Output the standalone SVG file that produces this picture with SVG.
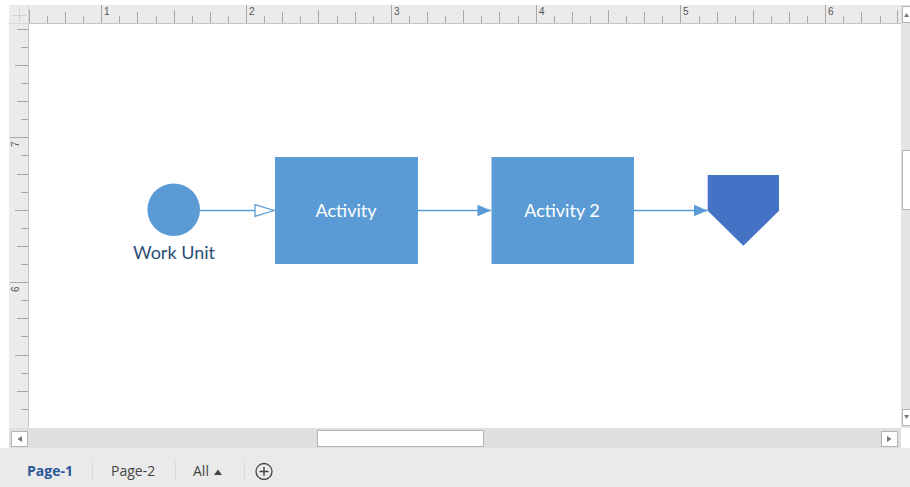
<svg xmlns="http://www.w3.org/2000/svg" width="910" height="487" viewBox="0 0 910 487">
<defs>
<style>
.ruler{fill:#ebebeb}
.tick{stroke:#a8a8a8;stroke-width:1;fill:none}
.rnum{font-family:"Liberation Sans",Arial,sans-serif;font-size:10px;fill:#555}
.sbox{fill:#fff;stroke:#b4b4b4;stroke-width:1}
.arrowglyph{fill:#777}
.conn{stroke:#5b9bd5;stroke-width:1.3;fill:none}
.shape{fill:#5b9bd5}
.lbl{font-family:Lato,"Open Sans",sans-serif;font-size:18px;fill:#fff;text-anchor:middle}
.tab{font-family:"Open Sans","Noto Sans",sans-serif;font-size:14px}
.sep{stroke:#d6d6d6;stroke-width:1}
</style>
<marker id="openArrow" markerWidth="22" markerHeight="14" refX="20" refY="7" orient="auto" markerUnits="userSpaceOnUse">
<path d="M1,1.2 L20,7 L1,12.8 Z" fill="#fff" stroke="#5b9bd5" stroke-width="1.3"/>
</marker>
<marker id="fillArrow" markerWidth="16" markerHeight="14" refX="14" refY="7" orient="auto" markerUnits="userSpaceOnUse">
<path d="M0.5,1.2 L14,7 L0.5,12.8 Z" fill="#5b9bd5"/>
</marker>
</defs>

<rect x="0" y="0" width="910" height="487" fill="#fff"/>

<!-- top ruler -->
<g id="top-ruler">
<rect class="ruler" x="9" y="5" width="892" height="19"/>
<line x1="9" y1="23.5" x2="901" y2="23.5" stroke="#c4c4c4"/>
<path class="tick" d="M101.5,5V23M246.5,5V23M391.5,5V23M536.5,5V23M680.5,5V23M825.5,5V23
M29.5,10V23M174.5,10V23M318.5,10V23M463.5,10V23M608.5,10V23M753.5,10V23M897.5,10V23
M65.5,12V23M137.5,12V23M210.5,12V23M282.5,12V23M355.5,12V23M427.5,12V23M499.5,12V23M572.5,12V23M644.5,12V23M717.5,12V23M789.5,12V23M861.5,12V23
M47.5,16V23M83.5,16V23M119.5,16V23M156.5,16V23M192.5,16V23M228.5,16V23M264.5,16V23M300.5,16V23M337.5,16V23M373.5,16V23M409.5,16V23M445.5,16V23M481.5,16V23M518.5,16V23M554.5,16V23M590.5,16V23M626.5,16V23M662.5,16V23M699.5,16V23M735.5,16V23M771.5,16V23M807.5,16V23M843.5,16V23M880.5,16V23"/>
<text class="rnum" x="104" y="15">1</text>
<text class="rnum" x="249" y="15">2</text>
<text class="rnum" x="394" y="15">3</text>
<text class="rnum" x="539" y="15">4</text>
<text class="rnum" x="683" y="15">5</text>
<text class="rnum" x="828" y="15">6</text>
</g>

<!-- left ruler -->
<g id="left-ruler">
<rect class="ruler" x="9" y="24" width="20" height="404"/>
<line x1="28.5" y1="5" x2="28.5" y2="428" stroke="#c4c4c4"/>
<path class="tick" d="M10,137.5H28M10,282.5H28
M15,65.5H28M15,210.5H28M15,355.5H28
M17,29.5H28M17,101.5H28M17,174.5H28M17,246.5H28M17,318.5H28M17,391.5H28
M21,47.5H28M21,83.5H28M21,119.5H28M21,155.5H28M21,192.5H28M21,228.5H28M21,264.5H28M21,300.5H28M21,336.5H28M21,373.5H28M21,409.5H28"/>
<text class="rnum" transform="translate(19,147) rotate(-90)">7</text>
<text class="rnum" transform="translate(19,292) rotate(-90)">6</text>
</g>

<!-- corner -->
<g id="ruler-corner">
<rect class="ruler" x="9" y="5" width="19.5" height="18.5"/>
<path d="M12,15.5H26M19.5,8V22" stroke="#d2d2d2" stroke-width="1"/>
</g>

<!-- vertical scrollbar -->
<g id="vscroll">
<rect x="901" y="5" width="9" height="423" fill="#e4e4e4"/>
<rect class="sbox" x="902.5" y="6.5" width="8" height="16"/>
<path class="arrowglyph" d="M904,17 L906.5,13 L909,17 Z"/>
<rect class="sbox" x="902.5" y="150.5" width="8" height="59"/>
<rect class="sbox" x="902.5" y="409.5" width="8" height="16"/>
<path class="arrowglyph" d="M904,415 L906.5,419 L909,415 Z"/>
</g>

<!-- horizontal scrollbar -->
<g id="hscroll">
<rect x="9" y="428" width="892" height="20" fill="#dfdfdf"/>
<rect class="sbox" x="11.5" y="431.5" width="16" height="15"/>
<path class="arrowglyph" d="M22,436 L17.5,439 L22,442 Z"/>
<rect class="sbox" x="317.5" y="430.5" width="166" height="16"/>
<rect class="sbox" x="881.5" y="431.5" width="16" height="15"/>
<path class="arrowglyph" d="M887,436 L891.5,439 L887,442 Z"/>
</g>

<!-- page tabs -->
<g id="tabs">
<rect x="0" y="448" width="910" height="39" fill="#eaeaea"/>
<text class="tab" x="27" y="476" fill="#2b579a" font-weight="bold">Page-1</text>
<line class="sep" x1="92.5" y1="462" x2="92.5" y2="480"/>
<text class="tab" x="111" y="476" fill="#444">Page-2</text>
<line class="sep" x1="175.5" y1="462" x2="175.5" y2="480"/>
<text class="tab" x="193" y="476" fill="#444">All</text>
<path d="M214,475 L218,469.5 L222,475 Z" fill="#444"/>
<line class="sep" x1="244.5" y1="462" x2="244.5" y2="480"/>
<circle cx="264" cy="471.5" r="8" fill="none" stroke="#444" stroke-width="1.3"/>
<path d="M264,467V476M259.5,471.5H268.5" stroke="#444" stroke-width="1.4"/>
</g>

<!-- connectors -->
<g id="connectors">
<line class="conn" x1="200" y1="210.5" x2="274" y2="210.5" marker-end="url(#openArrow)"/>
<line class="conn" x1="418" y1="210.5" x2="491" y2="210.5" marker-end="url(#fillArrow)"/>
<line class="conn" x1="634" y1="210.5" x2="707.5" y2="210.5" marker-end="url(#fillArrow)"/>
</g>

<!-- nodes -->
<g id="work-unit">
<circle class="shape" cx="173.7" cy="209.7" r="26.3"/>
<text x="174" y="259" font-family="Lato,'Open Sans',sans-serif" font-size="18" fill="#2a4d74" text-anchor="middle">Work Unit</text>
</g>
<g id="activity">
<rect class="shape" x="275" y="157" width="143" height="107"/>
<text class="lbl" x="346" y="216.5">Activity</text>
</g>
<g id="activity-2">
<rect class="shape" x="491.5" y="157" width="142.5" height="107"/>
<text class="lbl" x="562" y="216.5">Activity 2</text>
</g>
<g id="off-page-reference">
<path d="M707.7,175 H779 V210.7 L743.4,245.7 L707.7,210.7 Z" fill="#4472c4"/>
</g>
</svg>
